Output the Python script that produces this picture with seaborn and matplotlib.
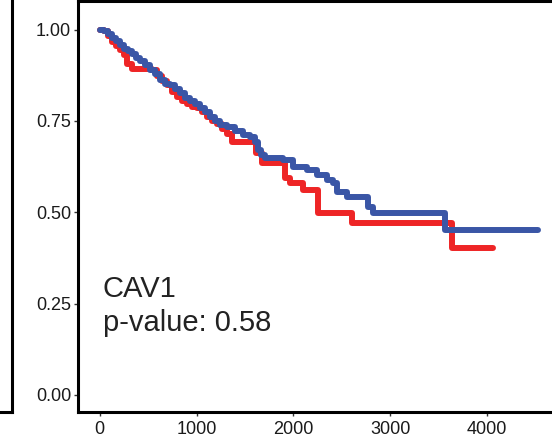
import matplotlib
matplotlib.use("Agg")
import matplotlib.pyplot as plt
import seaborn as sns
import pandas as pd

# Kaplan-Meier style curves (time, survival)
blue_time = [0, 41, 83, 124, 165, 207, 248, 289, 331, 372, 413, 465, 517, 568, 620,
             672, 724, 775, 827, 879, 930, 982, 1034, 1085, 1137, 1189, 1240, 1313,
             1395, 1478, 1550, 1602, 1633, 1664, 1705, 1891, 1995, 2140, 2243, 2346,
             2408, 2450, 2553, 2770, 2822, 3566, 4527]
blue_surv = [1.0, 0.997, 0.989, 0.978, 0.970, 0.959, 0.948, 0.940, 0.932, 0.923, 0.915,
             0.904, 0.890, 0.877, 0.863, 0.852, 0.847, 0.838, 0.825, 0.814, 0.805, 0.795,
             0.786, 0.775, 0.762, 0.751, 0.740, 0.732, 0.721, 0.712, 0.707, 0.693, 0.671,
             0.658, 0.649, 0.644, 0.625, 0.616, 0.603, 0.589, 0.581, 0.556, 0.542, 0.515,
             0.499, 0.452, 0.452]

red_time = [0, 41, 83, 124, 165, 207, 248, 279, 331, 537, 589, 641, 693, 744, 796, 848,
            899, 951, 1003, 1054, 1106, 1158, 1209, 1261, 1313, 1364, 1612, 1674, 1912,
            1964, 2098, 2253, 2605, 3638, 4062]
red_surv = [1.0, 0.995, 0.981, 0.967, 0.956, 0.945, 0.929, 0.907, 0.893, 0.888, 0.874,
            0.860, 0.847, 0.830, 0.816, 0.805, 0.795, 0.789, 0.784, 0.773, 0.762, 0.751,
            0.742, 0.729, 0.715, 0.693, 0.663, 0.636, 0.595, 0.581, 0.562, 0.499, 0.471,
            0.403, 0.403]

x_ticks = [0, 1000, 2000, 3000, 4000]
y_ticks = [0.00, 0.25, 0.50, 0.75, 1.00]
gene = "CAV1"
p_value = "0.58"

df = pd.concat([
    pd.DataFrame({"time": red_time, "surv": red_surv, "group": "low"}),
    pd.DataFrame({"time": blue_time, "surv": blue_surv, "group": "high"}),
], ignore_index=True)

sns.set_theme(style="white")
plt.rcParams["font.family"] = ["Liberation Sans", "DejaVu Sans"]

W, H = 552, 447
fig = plt.figure(figsize=(W / 100, H / 100), dpi=100)

# fragment of neighbouring panel on the left
ax0 = fig.add_axes([-100 / W, (H - 411.5) / H, 111.5 / W, 411.5 / H + 0.05])
ax0.set_xticks([]); ax0.set_yticks([])
for s in ["top", "left"]:
    ax0.spines[s].set_visible(False)
for s in ["right", "bottom"]:
    ax0.spines[s].set_linewidth(2.2)
    ax0.spines[s].set_color("black")

left, right, bottom, top = 78, 556, 411.5, 1.0
ax = fig.add_axes([left / W, (H - bottom) / H, (right - left) / W, (bottom - top) / H])

sns.lineplot(data=df, x="time", y="surv", hue="group",
             palette={"low": "#EE2526", "high": "#3A56A6"},
             hue_order=["low", "high"], estimator=None, sort=True,
             drawstyle="steps-post", linewidth=4.3, legend=False, ax=ax,
             solid_joinstyle="round", solid_capstyle="round")

ax.set_xlim(-225, 4715)
ax.set_ylim(-0.0452, 1.0781)
ax.set_xticks(x_ticks)
ax.set_xticklabels([str(v) for v in x_ticks])
ax.set_yticks(y_ticks)
ax.set_yticklabels([f"{v:.2f}" for v in y_ticks])
ax.set_xlabel("")
ax.set_ylabel("")
ax.tick_params(axis="both", which="both", length=3, width=1, color="#333333",
               labelsize=13, labelcolor="#1a1a1a", left=True, bottom=True)
ax.tick_params(axis="x", pad=4)
ax.tick_params(axis="y", pad=2)
for s in ax.spines.values():
    s.set_linewidth(2.2)
    s.set_color("black")

ax.text(0.052, 0.278, gene, transform=ax.transAxes, fontsize=21,
        color="#222222", va="baseline", ha="left")
ax.text(0.052, 0.197, f"p-value: {p_value}", transform=ax.transAxes, fontsize=21,
        color="#222222", va="baseline", ha="left")

fig.savefig("out.png", dpi=100)
